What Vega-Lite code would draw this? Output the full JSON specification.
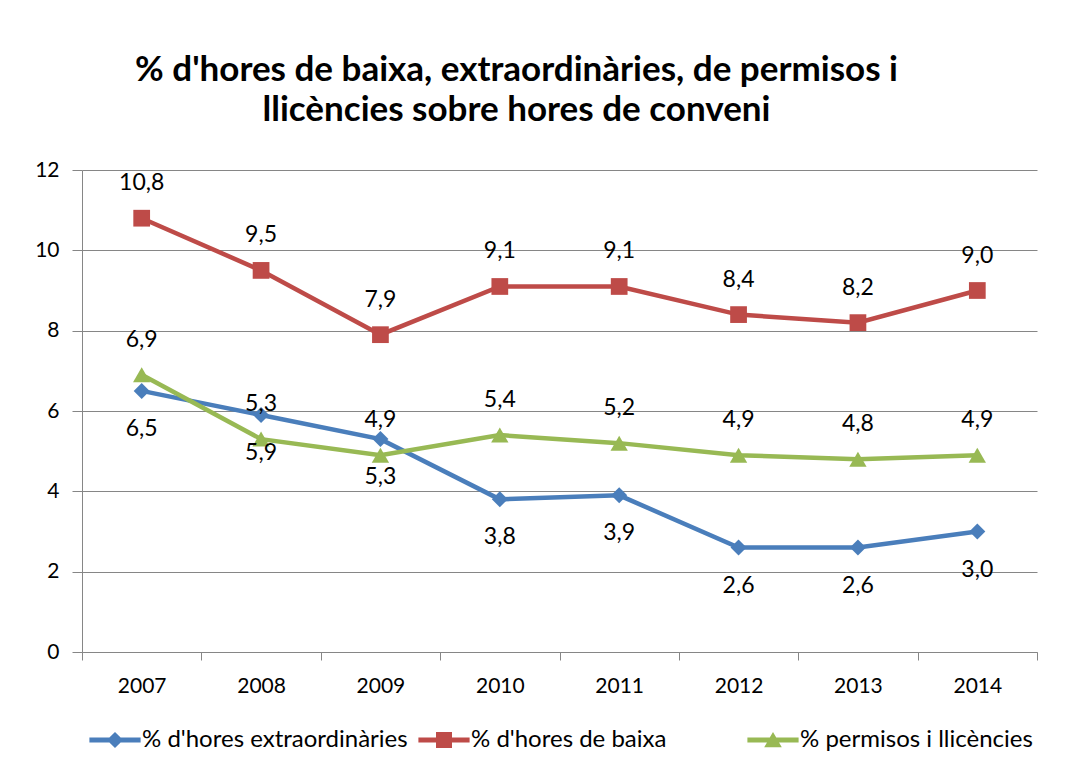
{
  "$schema": "https://vega.github.io/schema/vega-lite/v6.json",
  "width": 955,
  "height": 482,
  "autosize": {"type": "none"},
  "padding": {"left": 82, "top": 170, "right": 53, "bottom": 117},
  "background": "white",
  "config": {
    "locale": {"number": {"decimal": ",", "thousands": ".", "grouping": [3], "currency": ["", " €"]}},
    "view": {"stroke": null},
    "font": "Lato"
  },
  "title": {
    "text": ["% d'hores de baixa, extraordinàries, de permisos i", "llicències sobre hores de conveni"],
    "font": "Lato",
    "fontSize": 35,
    "fontWeight": "bold",
    "color": "#000000",
    "lineHeight": 40,
    "anchor": "middle",
    "frame": "group",
    "dx": -43,
    "offset": 31
  },
  "data": {
    "values": [
      {"year": "2007", "series": "% d'hores extraordinàries", "value": 6.5},
      {"year": "2008", "series": "% d'hores extraordinàries", "value": 5.9},
      {"year": "2009", "series": "% d'hores extraordinàries", "value": 5.3},
      {"year": "2010", "series": "% d'hores extraordinàries", "value": 3.8},
      {"year": "2011", "series": "% d'hores extraordinàries", "value": 3.9},
      {"year": "2012", "series": "% d'hores extraordinàries", "value": 2.6},
      {"year": "2013", "series": "% d'hores extraordinàries", "value": 2.6},
      {"year": "2014", "series": "% d'hores extraordinàries", "value": 3.0},
      {"year": "2007", "series": "% d'hores de baixa", "value": 10.8},
      {"year": "2008", "series": "% d'hores de baixa", "value": 9.5},
      {"year": "2009", "series": "% d'hores de baixa", "value": 7.9},
      {"year": "2010", "series": "% d'hores de baixa", "value": 9.1},
      {"year": "2011", "series": "% d'hores de baixa", "value": 9.1},
      {"year": "2012", "series": "% d'hores de baixa", "value": 8.4},
      {"year": "2013", "series": "% d'hores de baixa", "value": 8.2},
      {"year": "2014", "series": "% d'hores de baixa", "value": 9.0},
      {"year": "2007", "series": "% permisos i llicències", "value": 6.9},
      {"year": "2008", "series": "% permisos i llicències", "value": 5.3},
      {"year": "2009", "series": "% permisos i llicències", "value": 4.9},
      {"year": "2010", "series": "% permisos i llicències", "value": 5.4},
      {"year": "2011", "series": "% permisos i llicències", "value": 5.2},
      {"year": "2012", "series": "% permisos i llicències", "value": 4.9},
      {"year": "2013", "series": "% permisos i llicències", "value": 4.8},
      {"year": "2014", "series": "% permisos i llicències", "value": 4.9}
    ]
  },
  "encoding": {
    "x": {
      "field": "year",
      "type": "ordinal",
      "scale": {"type": "band", "paddingInner": 0, "paddingOuter": 0},
      "axis": {
        "title": null,
        "labelAngle": 0,
        "labelFont": "Lato",
        "labelFontSize": 21,
        "labelColor": "#000000",
        "labelPadding": 15,
        "tickBand": "extent",
        "tickSize": 8,
        "tickColor": "#868686",
        "domainColor": "#868686",
        "grid": false
      }
    },
    "y": {
      "field": "value",
      "type": "quantitative",
      "scale": {"domain": [0, 12], "nice": false},
      "axis": {
        "title": null,
        "values": [0, 2, 4, 6, 8, 10, 12],
        "labelFont": "Lato",
        "labelFontSize": 21,
        "labelColor": "#000000",
        "labelPadding": 13,
        "tickSize": 10,
        "tickColor": "#868686",
        "domainColor": "#868686",
        "grid": true,
        "gridColor": "#868686",
        "gridWidth": 1
      }
    }
  },
  "layer": [
    {
      "transform": [{"filter": "datum.series === \"% d'hores extraordinàries\""}],
      "mark": {"type": "line", "strokeWidth": 4.5, "stroke": "#4A7EBB"},
      "encoding": {}
    },
    {
      "transform": [{"filter": "datum.series === \"% d'hores de baixa\""}],
      "mark": {"type": "line", "strokeWidth": 4.5, "stroke": "#BE4B48"},
      "encoding": {}
    },
    {
      "transform": [{"filter": "datum.series === \"% permisos i llicències\""}],
      "mark": {"type": "line", "strokeWidth": 4.5, "stroke": "#98B954"},
      "encoding": {}
    },
    {
      "transform": [{"filter": "datum.series === \"% d'hores extraordinàries\""}],
      "mark": {"type": "point", "shape": "diamond", "filled": true, "size": 256, "opacity": 1, "fill": "#4A7EBB", "strokeWidth": 0},
      "encoding": {}
    },
    {
      "transform": [{"filter": "datum.series === \"% d'hores de baixa\""}],
      "mark": {"type": "point", "shape": "square", "filled": true, "size": 280, "opacity": 1, "fill": "#BE4B48", "strokeWidth": 0},
      "encoding": {}
    },
    {
      "transform": [{"filter": "datum.series === \"% permisos i llicències\""}],
      "mark": {"type": "point", "shape": "triangle-up", "filled": true, "size": 300, "opacity": 1, "fill": "#98B954", "strokeWidth": 0},
      "encoding": {}
    },
    {
      "transform": [{"filter": "datum.series === \"% d'hores extraordinàries\""}],
      "mark": {"type": "text", "font": "Lato", "fontSize": 23, "color": "#000000", "dy": 38, "baseline": "middle"},
      "encoding": {"text": {"field": "value", "type": "quantitative", "format": ".1f"}}
    },
    {
      "transform": [{"filter": "datum.series !== \"% d'hores extraordinàries\""}],
      "mark": {"type": "text", "font": "Lato", "fontSize": 23, "color": "#000000", "dy": -35, "baseline": "middle"},
      "encoding": {"text": {"field": "value", "type": "quantitative", "format": ".1f"}}
    },
    {
      "transform": [{"filter": "datum.value < 0"}],
      "mark": {"type": "point", "filled": true, "size": 256, "strokeWidth": 0},
      "encoding": {
        "color": {
          "field": "series",
          "type": "nominal",
          "scale": {
            "domain": ["% d'hores extraordinàries", "% d'hores de baixa", "% permisos i llicències"],
            "range": ["#4A7EBB", "#BE4B48", "#98B954"]
          },
          "legend": {
            "title": null,
            "orient": "none",
            "direction": "horizontal",
            "legendX": 21,
            "legendY": 558,
            "padding": 0,
            "gridAlign": "all",
            "symbolSize": 256,
            "symbolStrokeWidth": 0,
            "symbolOpacity": 1,
            "labelOffset": 15,
            "columnPadding": 10,
            "labelLimit": 400,
            "labelFont": "Lato",
            "labelFontSize": 24,
            "labelColor": "#000000"
          }
        },
        "shape": {
          "field": "series",
          "type": "nominal",
          "scale": {
            "domain": ["% d'hores extraordinàries", "% d'hores de baixa", "% permisos i llicències"],
            "range": [
              "M-3.2,-0.3H-0.7L0,-1L0.7,-0.3H3.2V0.3H0.7L0,1L-0.7,0.3H-3.2Z",
              "M-3.2,-0.3H-1V-1H1V-0.3H3.2V0.3H1V1H-1V0.3H-3.2Z",
              "M-3.2,-0.3H-0.405L0,-1L0.405,-0.3H3.2V0.3H0.753L1.1,0.9H-1.1L-0.753,0.3H-3.2Z"
            ]
          },
          "legend": {
            "title": null,
            "orient": "none",
            "direction": "horizontal",
            "legendX": 21,
            "legendY": 558,
            "padding": 0,
            "gridAlign": "all",
            "symbolSize": 256,
            "symbolStrokeWidth": 0,
            "symbolOpacity": 1,
            "labelOffset": 15,
            "columnPadding": 10,
            "labelLimit": 400,
            "labelFont": "Lato",
            "labelFontSize": 24,
            "labelColor": "#000000"
          }
        }
      }
    }
  ]
}
